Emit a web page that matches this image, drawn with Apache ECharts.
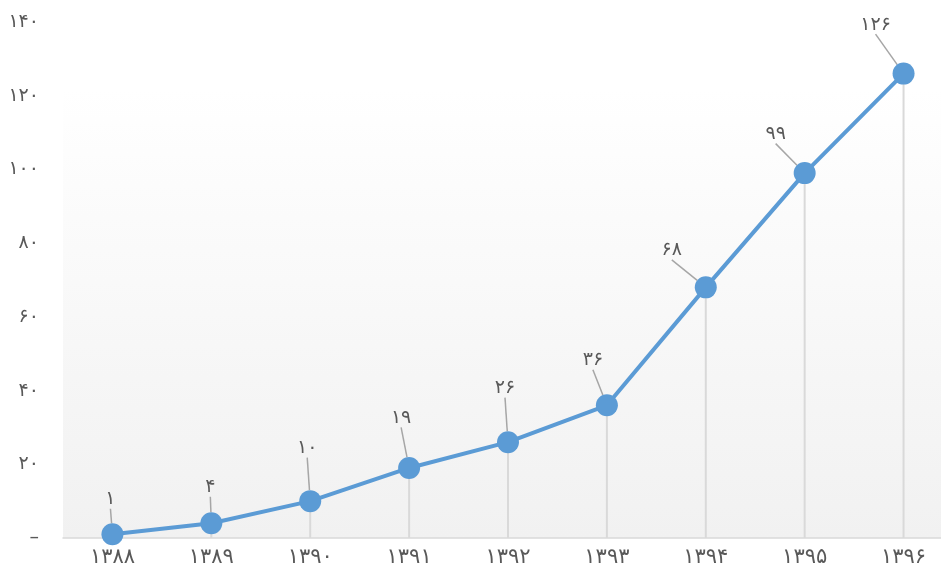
<html>
<head>
<meta charset="utf-8">
<script src="https://cdn.jsdelivr.net/npm/echarts@6/dist/echarts.min.js"></script>
<style>
  html, body { margin: 0; padding: 0; background: #fff; overflow: hidden; }
</style>
</head>
<body>
<div id="chart1" style="width: 953px;height: 569px;"></div>
<script>
  // data
  let years = [1388, 1389, 1390, 1391, 1392, 1393, 1394, 1395, 1396];
  let values = [1, 4, 10, 19, 26, 36, 68, 99, 126];
  let yTicks = [0, 20, 40, 60, 80, 100, 120, 140];

  // label offsets (px) from each point
  let labelDx = [-2, -1, -3, -8, -3, -14, -34, -29, -28];
  let labelDy = [-35, -36, -53, -50, -54, -45, -37, -39, -49];

  function fa(n) {
    let d = '۰۱۲۳۴۵۶۷۸۹';
    return String(n).replace(/[0-9]/g, function (c) { return d[+c]; });
  }

  let myChart = echarts.init(document.getElementById('chart1'));
  let font = 'DejaVu Sans';
  let option = {
    animation: false,
    grid: {
      left: 63,
      right: 0,
      top: 22,
      bottom: 31,
      show: true,
      borderWidth: 0,
      backgroundColor: {
        type: 'linear', x: 0, y: 0, x2: 0, y2: 1,
        colorStops: [
          { offset: 0, color: '#ffffff' },
          { offset: 0.13, color: '#ffffff' },
          { offset: 1, color: '#f1f1f1' }
        ]
      }
    },
    xAxis: {
      type: 'category',
      data: years,
      boundaryGap: true,
      axisLine: { lineStyle: { color: '#d9d9d9', width: 1.5 } },
      axisTick: { show: false },
      axisLabel: {
        color: '#595959',
        fontFamily: font,
        fontSize: 21,
        margin: 9,
        formatter: function (v) { return fa(v); }
      }
    },
    yAxis: {
      type: 'value',
      min: yTicks[0],
      max: yTicks[yTicks.length - 1],
      interval: 20,
      axisLine: { show: false },
      axisTick: { show: false },
      splitLine: { show: false },
      axisLabel: {
        color: '#595959',
        fontFamily: font,
        fontSize: 19,
        margin: 24,
        formatter: function (v) { return v === 0 ? '–' : fa(v); }
      }
    },
    series: [
      {
        // drop lines
        type: 'bar',
        data: values,
        barWidth: 2,
        silent: true,
        itemStyle: { color: '#d9d9d9' },
        z: 1
      },
      {
        type: 'line',
        data: values,
        symbol: 'circle',
        symbolSize: 22,
        lineStyle: { color: '#5b9bd5', width: 4 },
        itemStyle: { color: '#5b9bd5' },
        z: 3,
        label: {
          show: true,
          position: 'inside',
          color: '#595959',
          fontFamily: font,
          fontSize: 19,
          formatter: function (p) { return fa(p.value); }
        },
        labelLine: {
          show: true,
          lineStyle: { color: '#a6a6a6', width: 1.5 }
        },
        labelLayout: function (p) {
          return { dx: labelDx[p.dataIndex], dy: labelDy[p.dataIndex] };
        }
      }
    ]
  };
  myChart.setOption(option);
</script>
</body>
</html>
